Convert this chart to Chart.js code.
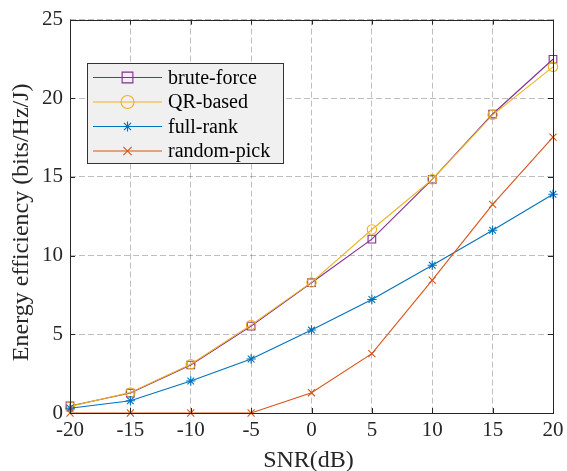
<!DOCTYPE html>
<html>
<head>
<meta charset="utf-8">
<script src="https://cdn.jsdelivr.net/npm/chart.js@4/dist/chart.umd.min.js"></script>
<style>
html,body{margin:0;padding:0;background:#fff;}
#wrap{width:567px;height:471px;position:relative;}
</style>
</head>
<body>
<div id="wrap"><canvas id="c" width="567" height="471"></canvas></div>
<script>
const snr = [-20, -15, -10, -5, 0, 5, 10, 15, 20];
const bruteForce = [0.45, 1.27, 3.05, 5.52, 8.28, 11.05, 14.85, 19.0, 22.48];
const qrBased    = [0.42, 1.3, 3.1, 5.6, 8.3, 11.66, 14.85, 18.95, 22.0];
const fullRank   = [0.3, 0.78, 2.03, 3.43, 5.27, 7.21, 9.39, 11.61, 13.9];
const randomPick = [0.0, 0.0, 0.0, 0.0, 1.29, 3.77, 8.44, 13.26, 17.53];
const seriesNames = ['brute-force', 'QR-based', 'full-rank', 'random-pick'];
const xTicks = [-20, -15, -10, -5, 0, 5, 10, 15, 20];
const yTicks = [0, 5, 10, 15, 20, 25];
const xTitle = 'SNR(dB)';
const yTitle = 'Energy efficiency (bits/Hz/J)';

const colors = ['#7E2F8E', '#EDB120', '#0072BD', '#D95319'];
const styles = ['rect', 'circle', 'star', 'crossRot'];
const radii = [5.4, 4.7, 4.7, 5];
const legendRadii = [7.6, 6.5, 5, 5.9];
const FONT = "'Liberation Serif', 'Times New Roman', serif";

function pts(arr){ return snr.map((x,i)=>({x:x, y:arr[i]})); }
const allData = [bruteForce, qrBased, fullRank, randomPick];

const datasets = allData.map((d,i)=>({
  label: seriesNames[i],
  data: pts(d),
  borderColor: colors[i],
  backgroundColor: 'rgba(0,0,0,0)',
  borderWidth: 1.1,
  pointStyle: styles[i],
  pointRadius: radii[i],
  pointBorderColor: colors[i],
  pointBackgroundColor: 'rgba(0,0,0,0)',
  pointBorderWidth: 1.1,
  tension: 0,
  clip: false
})).reverse();

function drawMarker(ctx, style, x, y, r, color){
  ctx.save();
  ctx.strokeStyle = color; ctx.lineWidth = 1.1;
  ctx.beginPath();
  if (style === 'rect'){
    const s = r*Math.SQRT1_2;
    ctx.rect(x-s, y-s, 2*s, 2*s);
  } else if (style === 'circle'){
    ctx.arc(x, y, r, 0, Math.PI*2);
  } else if (style === 'star'){
    const d = r*Math.SQRT1_2;
    ctx.moveTo(x-r,y); ctx.lineTo(x+r,y);
    ctx.moveTo(x,y-r); ctx.lineTo(x,y+r);
    ctx.moveTo(x-d,y-d); ctx.lineTo(x+d,y+d);
    ctx.moveTo(x-d,y+d); ctx.lineTo(x+d,y-d);
  } else {
    const d = r*Math.SQRT1_2;
    ctx.moveTo(x-d,y-d); ctx.lineTo(x+d,y+d);
    ctx.moveTo(x-d,y+d); ctx.lineTo(x+d,y-d);
  }
  ctx.stroke();
  ctx.restore();
}

const boxPlugin = {
  id: 'boxPlugin',
  afterDatasetsDraw(chart){
    const {ctx, chartArea:a, scales} = chart;
    ctx.save();
    // inward ticks
    ctx.strokeStyle = '#262626'; ctx.lineWidth = 1;
    ctx.beginPath();
    xTicks.forEach(v=>{
      const px = Math.round(scales.x.getPixelForValue(v))+0.5;
      ctx.moveTo(px, a.bottom); ctx.lineTo(px, a.bottom-5);
      ctx.moveTo(px, a.top); ctx.lineTo(px, a.top+5);
    });
    yTicks.forEach(v=>{
      const py = Math.round(scales.y.getPixelForValue(v))+0.5;
      ctx.moveTo(a.left, py); ctx.lineTo(a.left+5, py);
      ctx.moveTo(a.right, py); ctx.lineTo(a.right-5, py);
    });
    ctx.stroke();
    ctx.strokeRect(Math.round(a.left)+0.5, Math.round(a.top)+0.5, Math.round(a.right-a.left), Math.round(a.bottom-a.top));
    // axis titles
    ctx.fillStyle = '#262626';
    ctx.font = '24px ' + FONT;
    ctx.textAlign = 'center';
    ctx.textBaseline = 'alphabetic';
    ctx.fillText(xTitle, (a.left + a.right)/2 - 3, 467);
    ctx.save();
    ctx.translate(28, (a.top + a.bottom)/2 + 6);
    ctx.rotate(-Math.PI/2);
    ctx.fillText(yTitle, 0, 0);
    ctx.restore();
    // legend
    const lx = 87, ly = 63, lw = 196, lh = 100;
    ctx.fillStyle = '#f0f0f0';
    ctx.fillRect(lx, ly, lw, lh);
    ctx.strokeStyle = '#333333';
    ctx.strokeRect(lx+0.5, ly+0.5, lw, lh);
    const rowsY = [77.5, 102, 126.5, 151];
    ctx.font = '20px ' + FONT;
    ctx.textBaseline = 'middle';
    ctx.textAlign = 'left';
    seriesNames.forEach((n,i)=>{
      const y = rowsY[i];
      ctx.strokeStyle = colors[i]; ctx.lineWidth = 1.1;
      ctx.beginPath(); ctx.moveTo(93, y); ctx.lineTo(162, y); ctx.stroke();
      drawMarker(ctx, styles[i], 127.5, y, legendRadii[i], colors[i]);
      ctx.fillStyle = '#000';
      ctx.fillText(n, 168, y+1);
    });
    ctx.restore();
  }
};

new Chart(document.getElementById('c'), {
  type: 'line',
  data: { datasets },
  options: {
    responsive: false,
    animation: false,
    events: [],
    layout: { padding: { top: 19, right: 14, left: 0, bottom: 0 } },
    plugins: { legend: { display: false }, tooltip: { enabled: false } },
    scales: {
      x: {
        type: 'linear', min: -20, max: 20,
        afterFit(s){ s.height = 58; s.paddingLeft = 0; s.paddingRight = 0; },
        afterBuildTicks(s){ s.ticks = xTicks.map(v=>({value:v})); },
        border: { display: false, dash: [6,3] },
        grid: { color: 'rgba(0,0,0,0.25)', lineWidth: 1, drawTicks: false },
        ticks: { color: '#262626', padding: 5, font: { family: FONT, size: 21 }, maxRotation: 0 }
      },
      y: {
        min: 0, max: 25,
        afterFit(s){ s.width = 70; },
        afterBuildTicks(s){ s.ticks = yTicks.map(v=>({value:v})); },
        border: { display: false, dash: [6,3] },
        grid: { color: 'rgba(0,0,0,0.25)', lineWidth: 1, drawTicks: false },
        ticks: { color: '#262626', padding: 7, font: { family: FONT, size: 21 } }
      }
    }
  },
  plugins: [boxPlugin]
});
</script>
</body>
</html>
